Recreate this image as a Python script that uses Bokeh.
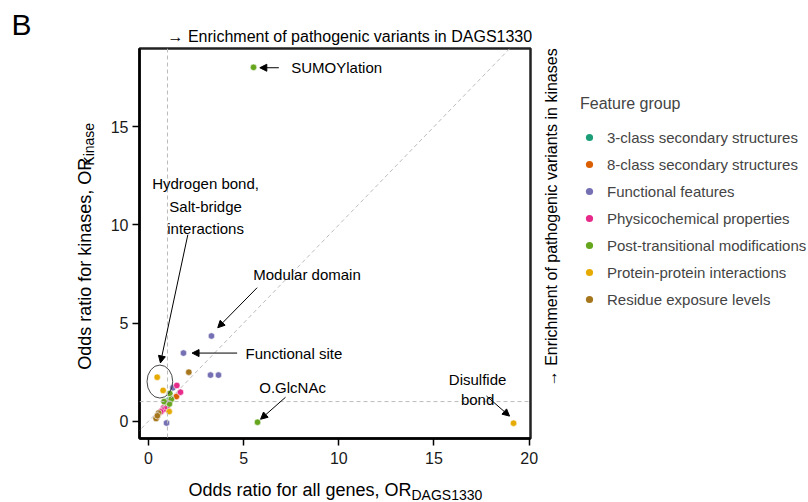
import math
from bokeh.plotting import figure
from bokeh.layouts import column, row
from bokeh.models import (Range1d, FixedTicker, Span, Slope, Label, Arrow,
                          NormalHead, Legend, LegendItem, ColumnDataSource)
from bokeh.embed import file_html
from bokeh.resources import INLINE

FONT = "Liberation Sans"

# ---------------- data ----------------
groups = ["3-class secondary structures", "8-class secondary structures",
          "Functional features", "Physicochemical properties",
          "Post-transitional modifications", "Protein-protein interactions",
          "Residue exposure levels"]
colors = ["#1B9E77", "#D95F02", "#7570B3", "#E7298A", "#66A61E", "#E6AB02", "#A6761D"]

ss3_x = [1.00, 0.93, 1.08]
ss3_y = [1.02, 0.95, 1.08]
ss8_x = [1.47, 1.02, 0.88, 1.12]
ss8_y = [1.26, 0.90, 0.78, 1.00]
func_x = [3.31, 1.84, 3.26, 3.68, 1.28, 0.95]
func_y = [4.34, 3.47, 2.35, 2.35, 1.70, -0.09]
phys_x = [1.49, 1.68, 0.92, 0.80, 0.72, 0.85, 0.98, 0.65]
phys_y = [1.82, 1.48, 0.78, 0.68, 0.55, 0.62, 0.72, 0.48]
ptm_x = [5.52, 5.73, 1.12, 1.20, 0.90, 1.10, 0.82]
ptm_y = [18.02, -0.05, 1.41, 1.12, 0.95, 0.88, 1.00]
ppi_x = [19.18, 0.46, 0.77, 1.09]
ppi_y = [-0.10, 2.24, 1.57, 0.49]
rsa_x = [2.12, 0.54, 0.40, 0.47]
rsa_y = [2.50, 0.42, 0.14, 0.28]

group_x = [ss3_x, ss8_x, func_x, phys_x, ptm_x, ppi_x, rsa_x]
group_y = [ss3_y, ss8_y, func_y, phys_y, ptm_y, ppi_y, rsa_y]

x_ticks = [0, 5, 10, 15, 20]
y_ticks = [0, 5, 10, 15]

x_title = "Odds ratio for all genes, OR"
x_title_sub = "DAGS1330"
y_title = "Odds ratio for kinases, OR"
y_title_sub = "Kinase"
top_note = "\u2192 Enrichment of pathogenic variants in DAGS1330"
right_note = "\u2192 Enrichment of pathogenic variants in kinases"
legend_title = "Feature group"
panel_tag = "B"


def blank(w, h, x0, x1, y0, y1):
    """Helper canvas whose data coordinates equal page pixels."""
    f = figure(width=w, height=h, output_backend="svg", toolbar_location=None,
               x_range=Range1d(x0, x1), y_range=Range1d(y1, y0),
               x_axis_location=None, y_axis_location=None, min_border=0)
    f.grid.visible = False
    f.outline_line_color = None
    f.background_fill_color = "white"
    f.border_fill_color = "white"
    return f


def lab(f, text, x, y, size, align="left", baseline="middle", angle=0.0):
    f.add_layout(Label(x=x, y=y, text=text, text_align=align,
                       text_baseline=baseline, angle=angle,
                       text_font=FONT, text_font_size=size, text_color="black"))


# ---------------- main plot ----------------
p = figure(width=442, height=426, output_backend="svg", toolbar_location=None,
           x_range=Range1d(-0.47, 20.07), y_range=Range1d(-0.88, 18.98),
           min_border_left=39, min_border_right=12,
           min_border_top=2, min_border_bottom=34)
p.grid.visible = False
p.outline_line_color = "#222222"
p.outline_line_width = 2.5
p.background_fill_color = "white"
p.border_fill_color = "white"

for ax, ticks in ((p.xaxis, x_ticks), (p.yaxis, y_ticks)):
    ax.ticker = FixedTicker(ticks=ticks)
    ax.axis_line_width = 2.5
    ax.axis_line_color = "black"
    ax.major_tick_line_width = 1.5
    ax.major_tick_out = 7
    ax.major_tick_in = 0
    ax.minor_tick_line_color = None
    ax.major_label_text_font = FONT
    ax.major_label_text_font_size = "16px"
    ax.major_label_text_color = "#1a1a1a"
p.xaxis.major_label_standoff = 6
p.yaxis.major_label_standoff = 4

ref = dict(line_color="#bbbbbb", line_dash="4 3", line_width=1)
p.add_layout(Span(location=1, dimension="height", **ref))
p.add_layout(Span(location=1, dimension="width", **ref))
p.add_layout(Slope(gradient=1, y_intercept=0, **ref))

for name, col, xs, ys in zip(groups, colors, group_x, group_y):
    src = ColumnDataSource(dict(x=xs, y=ys))
    p.scatter("x", "y", source=src, size=6.5, fill_color=col,
              line_color="white", line_width=0.6)

p.ellipse(x=[0.60], y=[2.02], width=[1.35], height=[1.68],
          fill_color=None, line_color="#333333", line_width=0.9)

ann = [
    ("SUMOYlation", 7.5, 18.0, "left"),
    ("Hydrogen bond,", 3.0, 12.09, "center"),
    ("Salt-bridge", 3.0, 10.92, "center"),
    ("interactions", 3.0, 9.80, "center"),
    ("Modular domain", 8.33, 7.48, "center"),
    ("Functional site", 5.10, 3.47, "left"),
    ("O.GlcNAc", 7.57, 1.73, "center"),
    ("Disulfide", 17.29, 2.14, "center"),
    ("bond", 17.29, 1.12, "center"),
]
for t, x, y, al in ann:
    lab(p, t, x, y, "15px", align=al)

arrows = [
    (6.85, 18.0, 5.85, 18.0),
    (2.07, 9.50, 0.63, 2.97),
    (5.71, 6.80, 3.64, 4.76),
    (4.66, 3.47, 2.29, 3.47),
    (7.20, 1.22, 5.89, 0.10),
    (17.76, 1.28, 18.97, 0.26),
]
for x0, y0, x1, y1 in arrows:
    p.add_layout(Arrow(x_start=x0, y_start=y0, x_end=x1, y_end=y1,
                       line_color="black", line_width=1,
                       end=NormalHead(size=7, fill_color="black", line_color="black")))

# ---------------- surrounding text strips ----------------
top = blank(808, 46, 0, 808, 0, 46)
lab(top, panel_tag, 11, 24, "30px")
lab(top, top_note, 167, 36, "16px")

left = blank(100, 426, 0, 100, 46, 472)
lab(left, y_title, 84, 397, "18px", angle=math.pi / 2)
lab(left, y_title_sub, 88, 174, "14px", angle=math.pi / 2)

right = blank(266, 426, 542, 808, 46, 472)
lab(right, right_note, 551, 415, "16px", angle=math.pi / 2)
items = []
for name, col, xs, ys in zip(groups, colors, group_x, group_y):
    # same data; lies outside this strip's ranges, only the legend swatch shows
    r = right.scatter(x=xs, y=ys, size=8, fill_color=col, line_color=None)
    items.append(LegendItem(label=name, renderers=[r]))
legend = Legend(items=items, location=(38, 129), title=legend_title,
                title_text_font=FONT, title_text_font_size="16px",
                title_text_font_style="normal", title_standoff=14,
                label_text_font=FONT, label_text_font_size="15px",
                glyph_width=18, glyph_height=20, label_height=20,
                label_standoff=9, spacing=7, padding=0, margin=0,
                border_line_color=None, background_fill_alpha=0)
right.add_layout(legend, "center")

bottom = blank(808, 30, 0, 808, 472, 502)
lab(bottom, x_title, 411, 489, "18px", align="right")
lab(bottom, x_title_sub, 411, 494, "14px", align="left")

layout = column(top, row(left, p, right), bottom)
open("out.html", "w").write(file_html(layout, INLINE))
